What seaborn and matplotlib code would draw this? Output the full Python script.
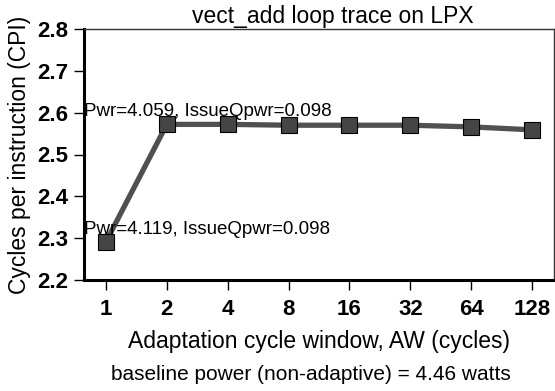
#!/usr/bin/env python3

import seaborn as sns
import matplotlib.pyplot as plt
import pandas as pd

AW_LABELS = ["1", "2", "4", "8", "16", "32", "64", "128"]
CPI = [2.291, 2.572, 2.572, 2.570, 2.570, 2.570, 2.566, 2.559]

NOTE_HIGH = "Pwr=4.059, IssueQpwr=0.098"
NOTE_LOW = "Pwr=4.119, IssueQpwr=0.098"
FOOTNOTE = "baseline power (non-adaptive) = 4.46 watts"


def main():
    sns.set_theme(style="white", rc={"text.color": "black", "axes.labelcolor": "black",
                                     "xtick.color": "black", "ytick.color": "black"})
    plt.rcParams["font.family"] = ["Liberation Sans", "DejaVu Sans"]

    data = pd.DataFrame({"pos": range(len(AW_LABELS)), "cpi": CPI})

    fig = plt.figure(figsize=(5.55, 3.91), dpi=100)
    ax = fig.add_axes([84 / 555, 1 - 280 / 391, 470 / 555, 251 / 391])

    sns.lineplot(data=data, x="pos", y="cpi", ax=ax, color="#505050", linewidth=3.8,
                 marker="s", markersize=11.5, markerfacecolor="#454545",
                 markeredgecolor="black", markeredgewidth=0.8)

    ax.set_xlim(-0.36, 7.36)
    ax.set_ylim(2.2, 2.8)
    ax.set_xticks(range(len(AW_LABELS)))
    ax.set_xticklabels(AW_LABELS)
    ax.set_yticks([2.2, 2.3, 2.4, 2.5, 2.6, 2.7, 2.8])
    ax.tick_params(axis="both", direction="out", length=7, width=1, labelsize=16,
                   bottom=True, left=True, top=False, right=False)
    ax.tick_params(axis="x", pad=7)
    ax.tick_params(axis="y", pad=4)
    for lbl in ax.get_xticklabels() + ax.get_yticklabels():
        lbl.set_fontweight("bold")

    for side in ["left", "bottom"]:
        ax.spines[side].set_linewidth(2.2)
        ax.spines[side].set_color("black")
    for side in ["top", "right"]:
        ax.spines[side].set_linewidth(1)
        ax.spines[side].set_color("#333333")

    ax.set_xlabel("Adaptation cycle window, AW (cycles)", fontsize=16.5, labelpad=7)
    ax.set_ylabel("Cycles per instruction (CPI)", fontsize=16.5, labelpad=5)
    ax.set_title("vect_add loop trace on LPX", fontsize=16.5, pad=4, x=0.53)

    ax.text(-0.36, 2.602, NOTE_HIGH, fontsize=13.5, ha="left", va="center")
    ax.text(-0.36, 2.321, NOTE_LOW, fontsize=13.5, ha="left", va="center")

    fig.text(311 / 555, 1 - 374 / 391, FOOTNOTE, fontsize=15, ha="center", va="center")

    fig.savefig("out.png", dpi=100)


if __name__ == "__main__":
    main()
